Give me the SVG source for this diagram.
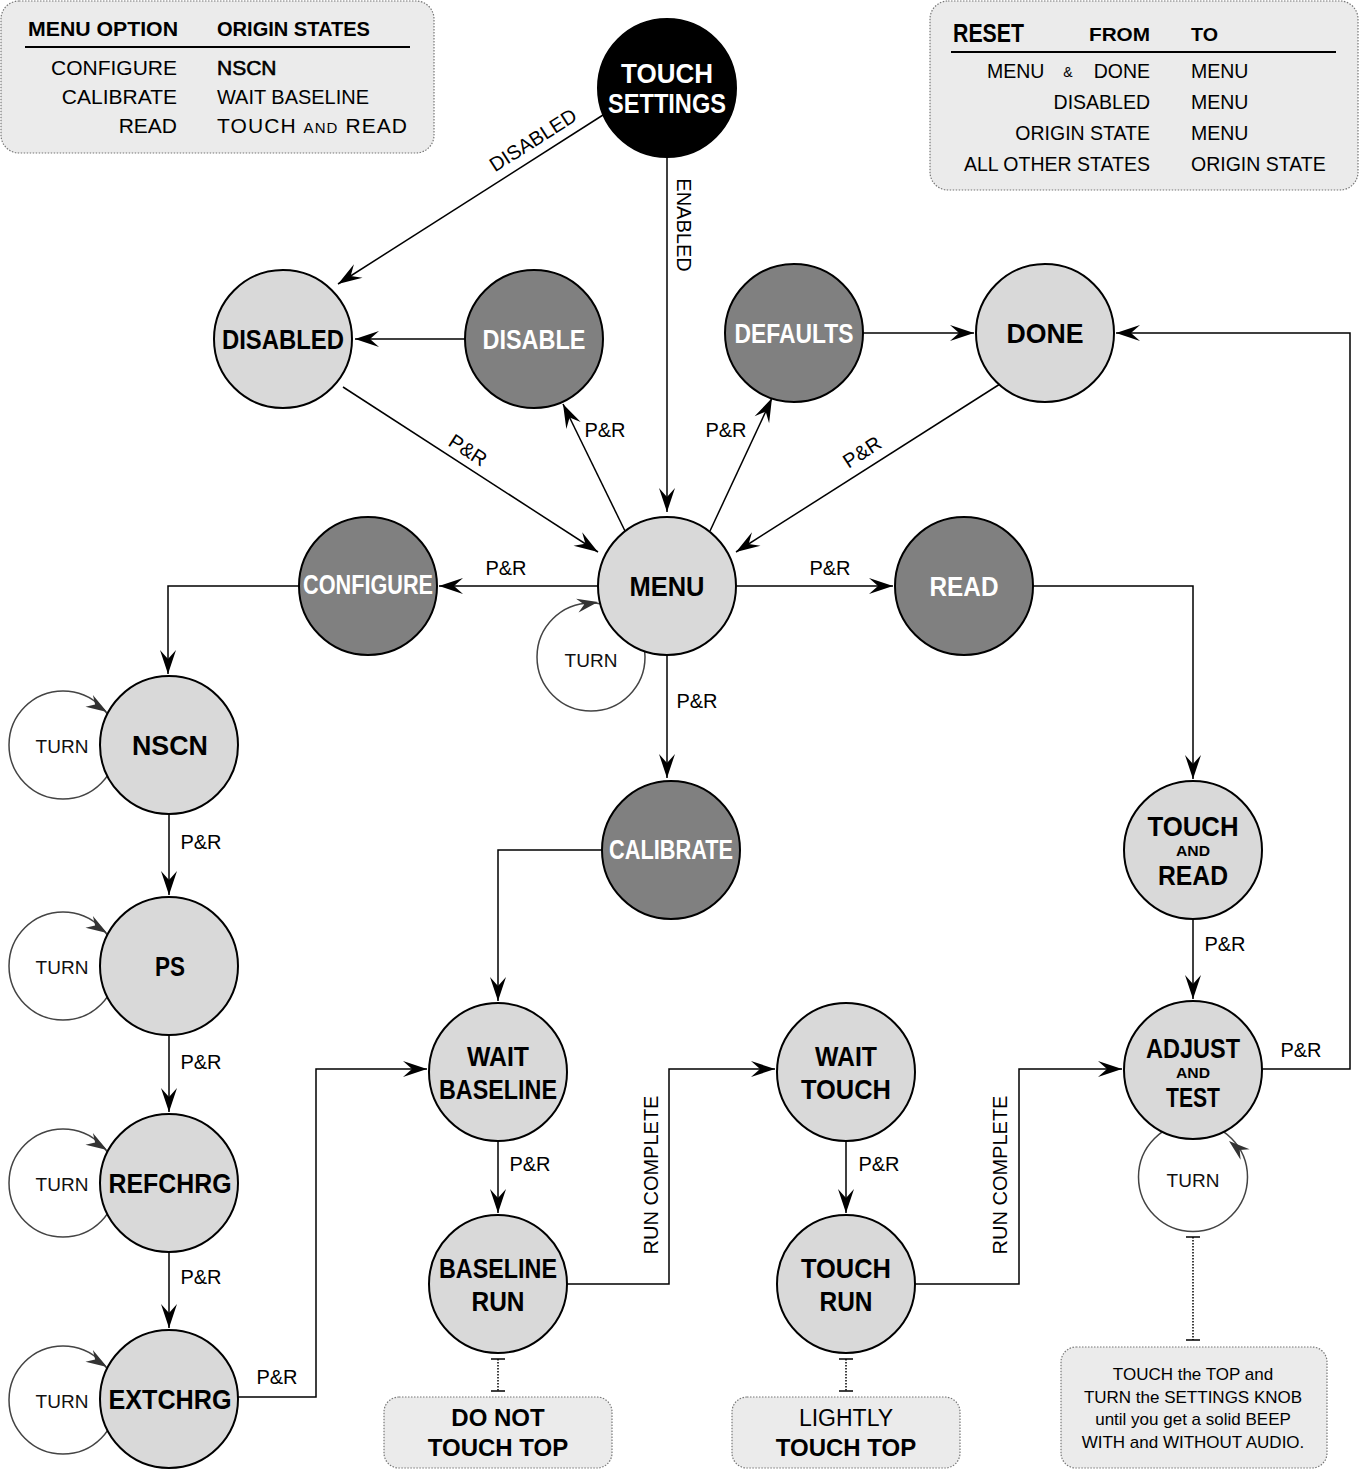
<svg xmlns="http://www.w3.org/2000/svg" xmlns:xlink="http://www.w3.org/1999/xlink" width="1359" height="1469" viewBox="0 0 1359 1469">
<style>
text{font-family:"Liberation Sans",Arial,sans-serif;fill:#000}
.nl{font-weight:bold;font-size:27px;text-anchor:middle}
.w{fill:#fff}
.sm{font-weight:bold;font-size:15px;text-anchor:middle}
.el{font-size:20px;text-anchor:middle}
.turn{font-size:19px;text-anchor:middle;fill:#111}
.light{fill:#d9d9d9;stroke:#000;stroke-width:2}
.dark{fill:#808080;stroke:#000;stroke-width:2}
.blk{fill:#000;stroke:#000;stroke-width:2}
.cn{fill:none;stroke:#000;stroke-width:1.5;marker-end:url(#arr)}
.loop{fill:none;stroke:#444;stroke-width:1.5}
.box{fill:#ebebeb;stroke:#777;stroke-width:1.2;stroke-dasharray:1.5 1.5}
.dot{fill:none;stroke:#000;stroke-width:1.5;stroke-dasharray:1.5 1.5}
.cap{fill:none;stroke:#000;stroke-width:1.5}
.lg{font-size:21px}
.lgh{font-size:21px;font-weight:bold}
.rg{font-size:19.5px}
.note{font-size:17px;text-anchor:middle}
.nb{font-size:24px;font-weight:bold;text-anchor:middle}
.nr{font-size:23px;text-anchor:middle}
</style>
<defs>
<marker id="arr" viewBox="-26 -10 28 20" refX="0" refY="0" markerWidth="28" markerHeight="20" markerUnits="userSpaceOnUse" orient="auto">
<path d="M0,0 L-24,-8 L-15,0 L-24,8 Z" fill="#000"/>
</marker>
<path id="lh" d="M0,0 L-21,-7 L-14,0 L-21,7 Z" fill="#333"/>
</defs>
<rect x="0" y="0" width="1359" height="1469" fill="#fff"/>

<g id="legend-menu">
<rect class="box" x="1" y="1" width="433" height="152" rx="18"/>
<text class="lgh" x="28" y="36" textLength="150" lengthAdjust="spacingAndGlyphs">MENU OPTION</text>
<text class="lgh" x="217" y="36" textLength="153" lengthAdjust="spacingAndGlyphs">ORIGIN STATES</text>
<line x1="25" y1="47" x2="410" y2="47" stroke="#000" stroke-width="2"/>
<text class="lg" x="177" y="75" text-anchor="end">CONFIGURE</text>
<text class="lg" x="177" y="104" text-anchor="end">CALIBRATE</text>
<text class="lg" x="177" y="133" text-anchor="end">READ</text>
<text class="lg" x="217" y="75" stroke="#000" stroke-width="0.6">NSCN</text>
<text class="lg" x="217" y="104" textLength="152" lengthAdjust="spacingAndGlyphs">WAIT BASELINE</text>
<text class="lg" x="217" y="133" textLength="190" lengthAdjust="spacing">TOUCH <tspan font-size="15">AND</tspan> READ</text>
</g>

<g id="legend-reset">
<rect class="box" x="930" y="1" width="428" height="189" rx="18"/>
<text x="953" y="42" font-weight="bold" font-size="25" textLength="71" lengthAdjust="spacingAndGlyphs">RESET</text>
<text x="1089" y="41" font-weight="bold" font-size="19" textLength="61" lengthAdjust="spacingAndGlyphs">FROM</text>
<text x="1191" y="41" font-weight="bold" font-size="19" textLength="27" lengthAdjust="spacingAndGlyphs">TO</text>
<line x1="951" y1="52" x2="1336" y2="52" stroke="#000" stroke-width="2"/>
<text class="rg" x="987" y="78">MENU</text>
<text x="1068" y="77" font-size="14" text-anchor="middle">&amp;</text>
<text class="rg" x="1150" y="78" text-anchor="end">DONE</text>
<text class="rg" x="1150" y="109" text-anchor="end">DISABLED</text>
<text class="rg" x="1150" y="140" text-anchor="end">ORIGIN STATE</text>
<text class="rg" x="1150" y="171" text-anchor="end">ALL OTHER STATES</text>
<text class="rg" x="1191" y="78">MENU</text>
<text class="rg" x="1191" y="109">MENU</text>
<text class="rg" x="1191" y="140">MENU</text>
<text class="rg" x="1191" y="171">ORIGIN STATE</text>
</g>

<g id="connectors">
<path class="cn" d="M603,115 L338,284"/>
<text class="el" transform="translate(533,140) rotate(-32.5)" y="7">DISABLED</text>
<path class="cn" d="M667,157 V512"/>
<text class="el" transform="translate(684,225) rotate(90)" y="7">ENABLED</text>
<path class="cn" d="M465,339 H355"/>
<path class="cn" d="M343,387 L598,552"/>
<text class="el" transform="translate(468,450) rotate(33)" y="7">P&amp;R</text>
<path class="cn" d="M625,531 L563,404"/>
<text class="el" x="605" y="437">P&amp;R</text>
<path class="cn" d="M710,531 L772,398"/>
<text class="el" x="726" y="437">P&amp;R</text>
<path class="cn" d="M863,333 H974"/>
<path class="cn" d="M1000,384 L736,552"/>
<text class="el" transform="translate(862,452) rotate(-33)" y="7">P&amp;R</text>
<path class="cn" d="M598,586 H439"/>
<text class="el" x="506" y="575">P&amp;R</text>
<path class="cn" d="M736,586 H893"/>
<text class="el" x="830" y="575">P&amp;R</text>
<path class="cn" d="M667,655 V778"/>
<text class="el" x="697" y="708">P&amp;R</text>
<path class="cn" d="M299,586 H168 V674"/>
<path class="cn" d="M1033,586 H1193 V779"/>
<path class="cn" d="M169,814 V895"/>
<text class="el" x="201" y="849">P&amp;R</text>
<path class="cn" d="M169,1035 V1112"/>
<text class="el" x="201" y="1069">P&amp;R</text>
<path class="cn" d="M169,1252 V1328"/>
<text class="el" x="201" y="1284">P&amp;R</text>
<path class="cn" d="M238,1397 H316 V1069 H427"/>
<text class="el" x="277" y="1384">P&amp;R</text>
<path class="cn" d="M602,850 H498 V1001"/>
<path class="cn" d="M498,1141 V1213"/>
<text class="el" x="530" y="1171">P&amp;R</text>
<path class="cn" d="M567,1284 H669 V1069 H775"/>
<text class="el" transform="translate(651,1175) rotate(-90)" y="7">RUN COMPLETE</text>
<path class="cn" d="M846,1141 V1213"/>
<text class="el" x="879" y="1171">P&amp;R</text>
<path class="cn" d="M915,1284 H1019 V1069 H1122"/>
<text class="el" transform="translate(1000,1175) rotate(-90)" y="7">RUN COMPLETE</text>
<path class="cn" d="M1193,919 V999"/>
<text class="el" x="1225" y="951">P&amp;R</text>
<path class="cn" d="M1262,1069 H1350 V333 H1116"/>
<text class="el" x="1301" y="1057">P&amp;R</text>

<circle class="loop" cx="591" cy="657" r="54"/>
<use href="#lh" transform="translate(598,602) rotate(-10)"/>
<text class="turn" x="591" y="667">TURN</text>
<circle class="loop" cx="63" cy="745" r="54"/>
<use href="#lh" transform="translate(107,712) rotate(32)"/>
<text class="turn" x="62" y="753">TURN</text>
<circle class="loop" cx="63" cy="966" r="54"/>
<use href="#lh" transform="translate(107,933) rotate(32)"/>
<text class="turn" x="62" y="974">TURN</text>
<circle class="loop" cx="63" cy="1183" r="54"/>
<use href="#lh" transform="translate(107,1150) rotate(32)"/>
<text class="turn" x="62" y="1191">TURN</text>
<circle class="loop" cx="63" cy="1400" r="54"/>
<use href="#lh" transform="translate(107,1367) rotate(32)"/>
<text class="turn" x="62" y="1408">TURN</text>
<circle class="loop" cx="1193" cy="1177" r="54.5"/>
<use href="#lh" transform="translate(1229,1141) rotate(-140)"/>
<text class="turn" x="1193" y="1187">TURN</text>

<path class="dot" d="M498,1359 V1391"/>
<path class="cap" d="M491,1359 H505 M491,1391 H505"/>
<path class="dot" d="M846,1359 V1391"/>
<path class="cap" d="M839,1359 H853 M839,1391 H853"/>
<path class="dot" d="M1193,1237 V1340"/>
<path class="cap" d="M1186,1237 H1200 M1186,1340 H1200"/>
</g>

<g id="n-touch-settings"><circle class="blk" cx="667" cy="88" r="69"/><text class="nl w" x="667" y="83" textLength="92" lengthAdjust="spacingAndGlyphs">TOUCH</text><text class="nl w" x="667" y="113" textLength="118" lengthAdjust="spacingAndGlyphs">SETTINGS</text></g>
<g id="n-disabled"><circle class="light" cx="283" cy="339" r="69"/><text class="nl" x="283" y="349" textLength="122" lengthAdjust="spacingAndGlyphs">DISABLED</text></g>
<g id="n-disable"><circle class="dark" cx="534" cy="339" r="69"/><text class="nl w" x="534" y="349" textLength="103" lengthAdjust="spacingAndGlyphs">DISABLE</text></g>
<g id="n-defaults"><circle class="dark" cx="794" cy="333" r="69"/><text class="nl w" x="794" y="343" textLength="119" lengthAdjust="spacingAndGlyphs">DEFAULTS</text></g>
<g id="n-done"><circle class="light" cx="1045" cy="333" r="69"/><text class="nl" x="1045" y="343" textLength="77" lengthAdjust="spacingAndGlyphs">DONE</text></g>
<g id="n-menu"><circle class="light" cx="667" cy="586" r="69"/><text class="nl" x="667" y="596" textLength="75" lengthAdjust="spacingAndGlyphs">MENU</text></g>
<g id="n-configure"><circle class="dark" cx="368" cy="586" r="69"/><text class="nl w" x="368" y="594" font-size="24" textLength="130" lengthAdjust="spacingAndGlyphs">CONFIGURE</text></g>
<g id="n-read"><circle class="dark" cx="964" cy="586" r="69"/><text class="nl w" x="964" y="596" textLength="69" lengthAdjust="spacingAndGlyphs">READ</text></g>
<g id="n-nscn"><circle class="light" cx="169" cy="745" r="69"/><text class="nl" x="170" y="755" textLength="76" lengthAdjust="spacingAndGlyphs">NSCN</text></g>
<g id="n-ps"><circle class="light" cx="169" cy="966" r="69"/><text class="nl" x="170" y="976" textLength="30" lengthAdjust="spacingAndGlyphs">PS</text></g>
<g id="n-refchrg"><circle class="light" cx="169" cy="1183" r="69"/><text class="nl" x="170" y="1193" textLength="123" lengthAdjust="spacingAndGlyphs">REFCHRG</text></g>
<g id="n-extchrg"><circle class="light" cx="169" cy="1399" r="69"/><text class="nl" x="170" y="1409" textLength="123" lengthAdjust="spacingAndGlyphs">EXTCHRG</text></g>
<g id="n-calibrate"><circle class="dark" cx="671" cy="850" r="69"/><text class="nl w" x="671" y="859" font-size="24" textLength="124" lengthAdjust="spacingAndGlyphs">CALIBRATE</text></g>
<g id="n-touch-and-read"><circle class="light" cx="1193" cy="850" r="69"/><text class="nl" x="1193" y="836" textLength="91" lengthAdjust="spacingAndGlyphs">TOUCH</text><text class="sm" x="1193" y="856" textLength="34" lengthAdjust="spacingAndGlyphs">AND</text><text class="nl" x="1193" y="885" textLength="70" lengthAdjust="spacingAndGlyphs">READ</text></g>
<g id="n-wait-baseline"><circle class="light" cx="498" cy="1072" r="69"/><text class="nl" x="498" y="1066" textLength="62" lengthAdjust="spacingAndGlyphs">WAIT</text><text class="nl" x="498" y="1099" textLength="118" lengthAdjust="spacingAndGlyphs">BASELINE</text></g>
<g id="n-baseline-run"><circle class="light" cx="498" cy="1284" r="69"/><text class="nl" x="498" y="1278" textLength="118" lengthAdjust="spacingAndGlyphs">BASELINE</text><text class="nl" x="498" y="1311" textLength="53" lengthAdjust="spacingAndGlyphs">RUN</text></g>
<g id="n-wait-touch"><circle class="light" cx="846" cy="1072" r="69"/><text class="nl" x="846" y="1066" textLength="62" lengthAdjust="spacingAndGlyphs">WAIT</text><text class="nl" x="846" y="1099" textLength="90" lengthAdjust="spacingAndGlyphs">TOUCH</text></g>
<g id="n-touch-run"><circle class="light" cx="846" cy="1284" r="69"/><text class="nl" x="846" y="1278" textLength="90" lengthAdjust="spacingAndGlyphs">TOUCH</text><text class="nl" x="846" y="1311" textLength="53" lengthAdjust="spacingAndGlyphs">RUN</text></g>
<g id="n-adjust-and-test"><circle class="light" cx="1193" cy="1070" r="69"/><text class="nl" x="1193" y="1058" textLength="94" lengthAdjust="spacingAndGlyphs">ADJUST</text><text class="sm" x="1193" y="1078" textLength="34" lengthAdjust="spacingAndGlyphs">AND</text><text class="nl" x="1193" y="1107" textLength="54" lengthAdjust="spacingAndGlyphs">TEST</text></g>

<g id="note-do-not-touch"><rect class="box" x="384" y="1397" width="228" height="71" rx="15"/><text class="nb" x="498" y="1426">DO NOT</text><text class="nb" x="498" y="1456">TOUCH TOP</text></g>
<g id="note-lightly"><rect class="box" x="732" y="1397" width="228" height="71" rx="15"/><text class="nr" x="846" y="1426">LIGHTLY</text><text class="nb" x="846" y="1456">TOUCH TOP</text></g>
<g id="note-adjust"><rect class="box" x="1061" y="1347" width="266" height="121" rx="15"/>
<text class="note" x="1193" y="1380">TOUCH the TOP and</text>
<text class="note" x="1193" y="1403">TURN the SETTINGS KNOB</text>
<text class="note" x="1193" y="1425">until you get a solid BEEP</text>
<text class="note" x="1193" y="1448">WITH and WITHOUT AUDIO.</text>
</g>
</svg>
